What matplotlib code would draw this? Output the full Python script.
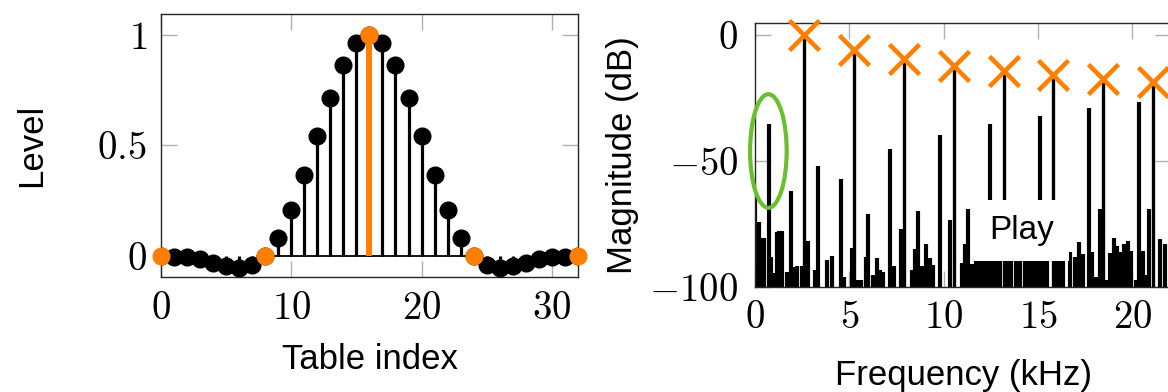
import matplotlib
matplotlib.use('Agg')
import matplotlib.pyplot as plt
from matplotlib.patches import Ellipse
import numpy as np

# ==========================
# Data
# ==========================

# wavetable samples (left panel)
table_index = np.arange(0, 33)
level = [0.0, -0.003, -0.0045, -0.012, -0.030, -0.045, -0.054, -0.042, 0.0,
         0.083, 0.207, 0.366, 0.542, 0.715, 0.863, 0.962, 1.0,
         0.962, 0.863, 0.715, 0.542, 0.366, 0.207, 0.083, 0.0,
         -0.042, -0.054, -0.045, -0.030, -0.012, -0.0045, -0.003, 0.0]
key_index = [0, 8, 16, 24, 32]
key_level = [0.0, 0.0, 1.0, 0.0, 0.0]

# harmonics (right panel)
harm_freq = [2.61, 5.26, 7.89, 10.54, 13.19, 15.80, 18.45, 21.10]
harm_db = [0.0, -6.0, -9.6, -12.2, -14.3, -15.9, -17.3, -18.5]

# the rest of the spectrum (kHz, dB)
spec_freq = [0.02, 0.12, 0.23, 0.37, 0.48, 0.74, 0.85, 0.97, 1.15, 1.29,
             1.43, 1.68, 1.89, 2.07, 2.24, 2.47, 2.81, 3.16, 3.35, 3.80,
             4.06, 4.56, 4.73, 5.12, 5.46, 5.63, 5.86, 5.99, 6.23, 6.44,
             6.62, 6.80, 7.17, 7.38, 7.75, 8.30, 8.47, 8.62, 8.83, 9.07,
             9.27, 9.45, 9.80, 10.33, 10.95, 11.12, 11.28, 11.48, 11.70, 11.85,
             12.05, 12.25, 12.45, 12.65, 12.85, 13.00, 13.40, 13.58, 13.85, 14.05,
             14.30, 14.50, 14.70, 14.90, 15.10, 15.30, 15.50, 15.95, 16.15, 16.35,
             16.68, 16.95, 17.18, 17.36, 17.71,
             17.88, 18.06, 18.29, 18.63, 18.82, 19.01, 19.17, 19.37, 19.58, 19.77,
             19.95, 20.18, 20.36, 20.57, 20.75, 20.89, 21.49, 21.72]
spec_db = [-64.0, -74.0, -74.0, -80.6, -80.6, -35.3, -88.0, -94.4, -78.0, -77.5,
           -77.5, -94.0, -61.8, -92.0, -91.6, -91.6, -81.6, -93.0, -51.9, -89.0,
           -87.7, -57.1, -96.0, -84.5, -97.0, -97.0, -88.0, -71.0, -95.0, -88.5,
           -93.0, -94.0, -45.2, -91.6, -77.0, -93.0, -84.7, -69.7, -91.6, -83.0,
           -88.5, -91.0, -39.7, -73.4, -90.5, -83.0, -68.8, -90.9, -88.0, -89.0,
           -87.0, -88.0, -35.3, -87.0, -88.0, -89.0, -88.0, -87.0, -89.0, -88.0,
           -87.0, -89.0, -88.0, -87.0, -32.1, -88.0, -87.0, -88.0, -89.0, -88.0,
           -86.0, -88.0, -82.0, -87.0, -29.1,
           -86.0, -96.0, -68.8, -97.0, -86.6, -80.6, -83.5, -85.9, -83.0, -81.5,
           -85.5, -97.0, -26.7, -85.6, -95.0, -68.8, -80.7, -83.0]

orange = '#ff8000'
green = '#6abf30'
tick_gray = '#b0b0b0'

plt.rcParams['font.family'] = ['Liberation Sans', 'DejaVu Sans']
plt.rcParams['mathtext.fontset'] = 'cm'

fig = plt.figure(figsize=(11.68, 3.92), dpi=100)
ax1 = fig.add_axes([0.1378, 0.2934, 0.357, 0.672])
ax2 = fig.add_axes([0.6464, 0.2671, 0.3562, 0.6735])


def style_axes(ax):
    for s in ax.spines.values():
        s.set_color('#262626')
        s.set_linewidth(1.0)
    ax.tick_params(direction='in', length=11.5, width=1.0, color=tick_gray,
                   top=True, right=True, labelsize=28)


def tex(v, pos=None):
    return '$%g$' % v


# ==========================
# Left: table
# ==========================
ax1.plot([8, 24], [0, 0], color='black', lw=1.3, zorder=1)
ax1.vlines(table_index, 0, level, color='black', lw=2.3, zorder=2)
ax1.plot(table_index, level, 'o', color='black', markersize=12, zorder=3)
ax1.vlines(key_index, 0, key_level, color=orange, lw=4.3, zorder=4)
ax1.plot(key_index, key_level, 'o', color=orange, markersize=12, zorder=5,
         clip_on=False)

ax1.set_xlim(0, 32)
ax1.set_ylim(-0.095, 1.097)
ax1.set_xticks([0, 10, 20, 30])
ax1.set_yticks([0, 0.5, 1])
ax1.xaxis.set_major_formatter(tex)
ax1.yaxis.set_major_formatter(tex)
style_axes(ax1)
ax1.tick_params(axis='x', pad=10)
ax1.tick_params(axis='y', pad=10)
ax1.set_xlabel('Table index', fontsize=25)
ax1.set_ylabel('Level', fontsize=25)
ax1.xaxis.set_label_coords(0.5, -0.25)
ax1.yaxis.set_label_coords(-0.27, 0.5)

# ==========================
# Right: spectrum
# ==========================
ax2.vlines(spec_freq, -100, spec_db, color='black', lw=3.0, zorder=2)
ax2.vlines(harm_freq, -100, harm_db, color='black', lw=2.4, zorder=2)
ax2.plot(harm_freq, harm_db, 'x', color=orange, markersize=21, mew=3.3,
         zorder=6, clip_on=False)

ax2.text(14.13, -77.5, 'Play', fontsize=24, ha='center', va='center', zorder=5,
         bbox=dict(boxstyle='square,pad=0.45', fc='white', ec='none'))

ax2.add_patch(Ellipse((0.71, -46), 1.94, 45, fill=False, ec=green, lw=3.0,
                      zorder=7, clip_on=False))

ax2.set_xlim(0, 22.05)
ax2.set_ylim(-100, 4.6)
ax2.set_xticks([0, 5, 10, 15, 20])
ax2.set_yticks([0, -50, -100])
ax2.xaxis.set_major_formatter(tex)
ax2.yaxis.set_major_formatter(tex)
style_axes(ax2)
ax2.tick_params(axis='x', pad=9)
ax2.tick_params(axis='y', pad=12)
ax2.set_xlabel('Frequency (kHz)', fontsize=25)
ax2.set_ylabel('Magnitude (dB)', fontsize=25)
ax2.xaxis.set_label_coords(0.5, -0.27)
ax2.yaxis.set_label_coords(-0.28, 0.5)

fig.savefig('out.png', dpi=100)
